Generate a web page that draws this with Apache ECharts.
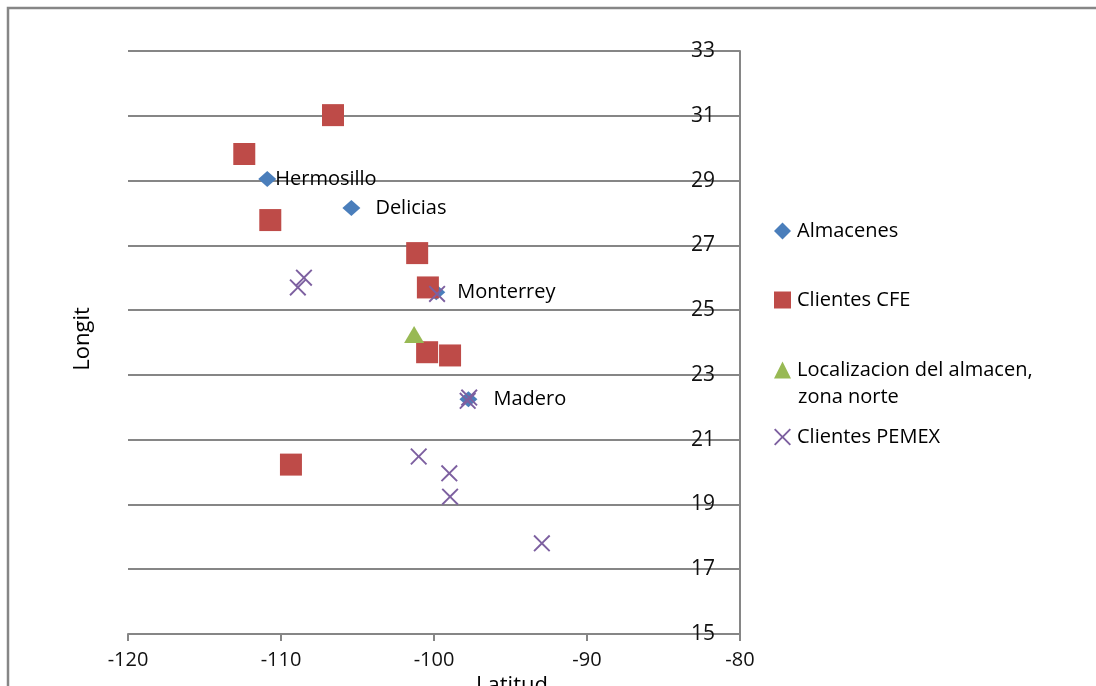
<!DOCTYPE html>
<html>
<head>
<meta charset="utf-8">
<script src="https://cdn.jsdelivr.net/npm/echarts@6/dist/echarts.min.js"></script>
<style>
html,body{margin:0;padding:0;background:#fff;}
#chart{width:1096px;height:686px;}
</style>
</head>
<body>
<div id="chart"></div>
<script>
// ---- data ----
const almacenesNames = ['Hermosillo', 'Delicias', 'Monterrey', 'Madero'];
const almacenesX = [-110.9, -105.4, -99.85, -97.75];
const almacenesY = [29.05, 28.15, 25.55, 22.25];

const cfeX = [-106.6, -112.4, -110.7, -101.1, -100.4, -100.45, -98.95, -109.35];
const cfeY = [31.02, 29.82, 27.78, 26.76, 25.70, 23.70, 23.60, 20.23];

const zonaNorteX = [-101.3];
const zonaNorteY = [24.25];

const pemexX = [-108.5, -108.9, -99.8, -97.7, -97.8, -101.0, -99.0, -98.95, -92.95];
const pemexY = [26.0, 25.7, 25.5, 22.3, 22.2, 20.48, 19.96, 19.24, 17.8];

const seriesNames = ['Almacenes', 'Clientes CFE', 'Localizacion del almacen, zona norte', 'Clientes PEMEX'];
const xTicks = { min: -120, max: -80, interval: 10 };
const yTicks = { min: 15, max: 33, interval: 2 };
const xTitle = 'Latitud';
const yTitle = 'Longit';

// ---- build ----
const pairs = (xs, ys) => xs.map((x, i) => [x, ys[i]]);
const crossPath = 'path://M0,8 L8,0 L50,42 L92,0 L100,8 L58,50 L100,92 L92,100 L50,58 L8,100 L0,92 L42,50 Z';
const colors = ['#4A7EBB', '#BE4B48', '#98B954', '#7D60A0'];
const labelDist = [-1, 15, 12, 16];
const font = 'Open Sans, Noto Sans, sans-serif';

const almacenesData = almacenesX.map((x, i) => ({
  value: [x, almacenesY[i]],
  name: almacenesNames[i],
  label: { distance: labelDist[i] }
}));

const legendTops = [231, 300, 370, 437];
const legendIcons = ['diamond', 'rect', 'triangle', crossPath];

const chart = echarts.init(document.getElementById('chart'), null, { renderer: 'canvas' });
chart.setOption({
  animation: false,
  backgroundColor: '#fff',
  color: colors,
  grid: { left: 128, right: 356, top: 51, bottom: 52, containLabel: false, outerBoundsMode: 'none' },
  xAxis: {
    type: 'value',
    min: xTicks.min, max: xTicks.max, interval: xTicks.interval,
    axisLine: { show: true, onZero: false, lineStyle: { color: '#868686', width: 2 } },
    axisTick: { show: true, length: 7, lineStyle: { color: '#868686', width: 2 } },
    splitLine: { show: false },
    axisLabel: { fontSize: 20, color: '#111', margin: 16, fontFamily: font },
    name: xTitle,
    nameLocation: 'middle',
    nameGap: 32,
    nameTextStyle: { fontSize: 22, color: '#000', fontFamily: font, padding: [0, 0, 0, 156] }
  },
  yAxis: {
    type: 'value',
    position: 'right',
    min: yTicks.min, max: yTicks.max, interval: yTicks.interval,
    axisLine: { show: true, lineStyle: { color: '#868686', width: 2 } },
    axisTick: { show: false },
    splitLine: { show: true, lineStyle: { color: '#868686', width: 2 } },
    axisLabel: { inside: true, margin: 25, fontSize: 21, color: '#111', fontFamily: font }
  },
  legend: seriesNames.map((n, i) => ({
    data: [{ name: n, icon: legendIcons[i] }],
    orient: 'vertical',
    left: 774,
    top: legendTops[i] - 12,
    padding: 0,
    itemWidth: 17,
    itemHeight: 17,
    itemGap: 0,
    selectedMode: false,
    formatter: i === 2 ? () => 'Localizacion del almacen,' : undefined,
    itemStyle: { opacity: 1 },
    textStyle: { fontSize: 20, color: '#000', fontFamily: font, lineHeight: 24, padding: [0, 0, 0, 1] }
  })),
  graphic: [
    {
      type: 'rect', silent: true, z: 0,
      shape: { x: 8, y: 8, width: 1200, height: 800 },
      style: { fill: 'none', stroke: '#868686', lineWidth: 2.5 }
    },
    {
      type: 'text', silent: true,
      x: 83, y: 339, rotation: Math.PI / 2,
      style: { text: yTitle, fontSize: 22, fill: '#000', fontFamily: font, align: 'center', verticalAlign: 'middle' }
    },
    {
      type: 'text', silent: true,
      x: 798, y: 397,
      style: { text: 'zona norte', fontSize: 20, fill: '#000', fontFamily: font, align: 'left', verticalAlign: 'middle' }
    }
  ],
  series: [
    {
      name: seriesNames[0], type: 'scatter', symbol: 'diamond', symbolSize: [18, 16],
      data: almacenesData,
      itemStyle: { color: colors[0], opacity: 1 },
      label: { show: true, position: 'right', formatter: p => p.name, fontSize: 20, color: '#000', opacity: 1, fontFamily: font },
      z: 2
    },
    {
      name: seriesNames[1], type: 'scatter', symbol: 'rect', symbolSize: 22,
      data: pairs(cfeX, cfeY),
      itemStyle: { color: colors[1], opacity: 1 },
      z: 3
    },
    {
      name: seriesNames[2], type: 'scatter', symbol: 'triangle', symbolSize: [20, 17],
      data: pairs(zonaNorteX, zonaNorteY),
      itemStyle: { color: colors[2], opacity: 1 },
      z: 4
    },
    {
      name: seriesNames[3], type: 'scatter', symbol: crossPath, symbolSize: 17,
      data: pairs(pemexX, pemexY),
      itemStyle: { color: colors[3], opacity: 1 },
      z: 5
    }
  ]
});
</script>
</body>
</html>
